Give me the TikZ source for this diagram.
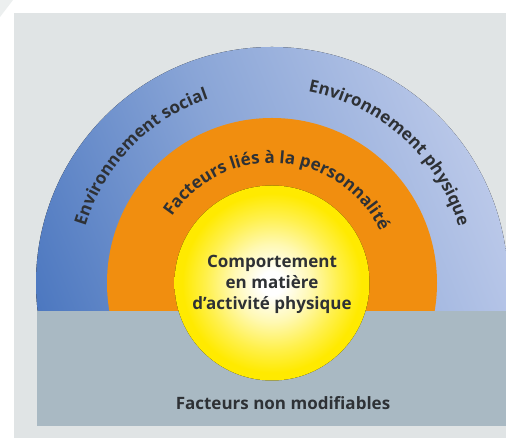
\documentclass[tikz,border=0pt]{standalone}
\usepackage{fontspec}
\setmainfont{Open Sans}
\usetikzlibrary{decorations.text}
\definecolor{bgray}{HTML}{E0E4E5}
\definecolor{rectgray}{HTML}{A9B9C3}
\definecolor{orng}{HTML}{F18E0F}
\definecolor{bluedark}{HTML}{4A76BF}
\definecolor{bluemid}{HTML}{88A4D6}
\definecolor{bluelight}{HTML}{BAC8E9}
\definecolor{sunyellow}{HTML}{FFEA00}
\definecolor{txt}{HTML}{2E3135}
\pgfdeclareradialshading{sun}{\pgfpoint{0bp}{0bp}}{color(0bp)=(white); color(3bp)=(white); color(10bp)=(sunyellow!30!white); color(17bp)=(sunyellow!70!white); color(23bp)=(sunyellow); color(50bp)=(sunyellow)}
\tikzset{
  lbl/.style={text=txt, font=\bfseries\fontsize{17}{21}\selectfont, align=center},
}
\begin{document}
\begin{tikzpicture}[x=1pt,y=1pt]
\useasboundingbox (0,0) rectangle (506,438);
\clip (0,0) rectangle (506,438);
\fill[white] (0,0) rectangle (506,438);
\fill[bgray] (14,0) rectangle (506,425);
\fill[bgray!60!white] (0,438) -- (13,438) -- (0,421) -- cycle;
\coordinate (C) at (272,155);
\begin{scope}
  \clip (0,127) rectangle (506,438);
  \fill[left color=bluedark, right color=bluelight, middle color=bluemid, shading angle=112] (C) circle[radius=236pt];
  \fill[orng] (C) circle[radius=165pt];
\end{scope}
\fill[rectgray] (37,12) rectangle (506,127);
\fill[shading=sun] (C) circle[radius=97.5pt];
\node[lbl] (core) at (272,154) {Comportement\\en matière\\d’activité physique};
\node[lbl] (fixed) at (283,35) {Facteurs non modifiables};
\path[shift={(272,155)}, decorate, decoration={text along path, text align=center,
  text={|\bfseries\fontsize{17}{17}\selectfont\color{txt}|Environnement social}}]
  (206:195pt) arc[start angle=206, end angle=66, radius=195pt];
\path[shift={(272,155)}, decorate, decoration={text along path, text align=center,
  text={|\bfseries\fontsize{17}{17}\selectfont\color{txt}|Environnement physique}}]
  (118:195pt) arc[start angle=118, end angle=-22, radius=195pt];
\path[shift={(272,155)}, decorate, decoration={text along path, text align=center,
  text={|\bfseries\fontsize{17}{17}\selectfont\color{txt}|Facteurs liés à la personnalité}}]
  (176:120pt) arc[start angle=176, end angle=-4, radius=120pt];
\end{tikzpicture}
\end{document}
